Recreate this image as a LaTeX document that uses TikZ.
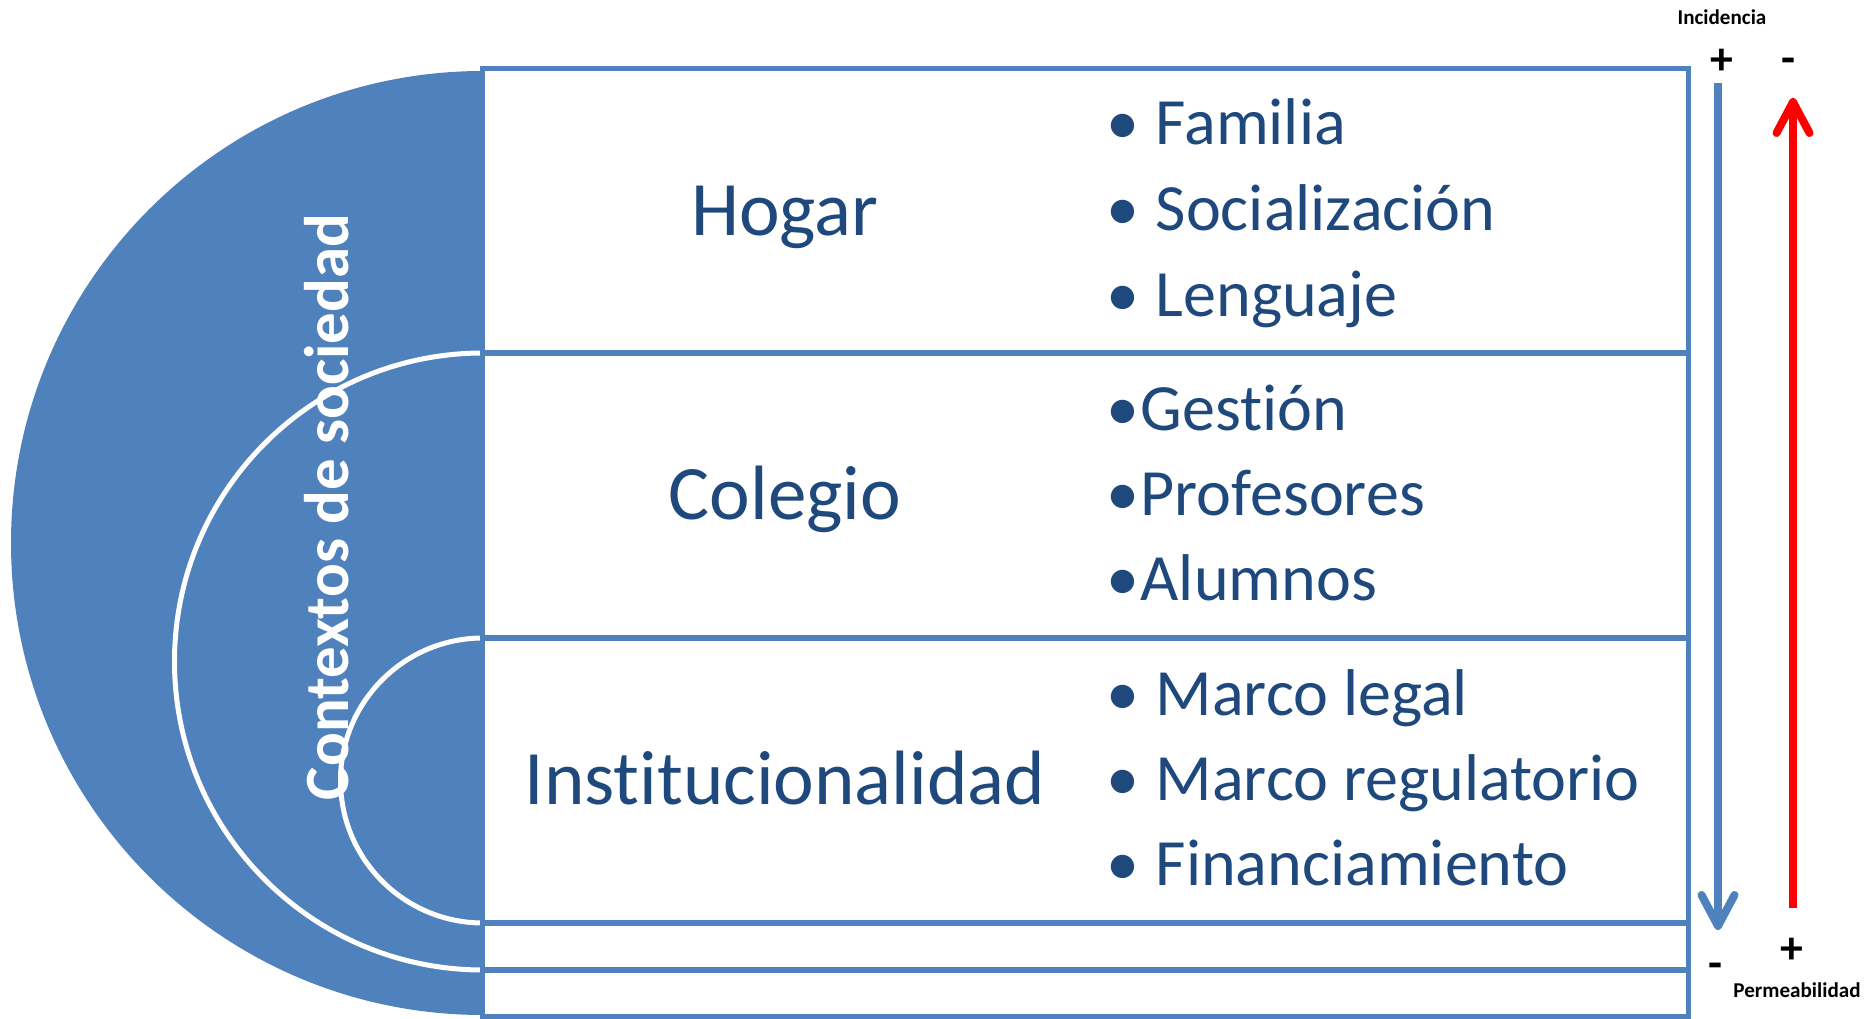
\documentclass[tikz,border=0pt]{standalone}
\usepackage{fontspec}
\setmainfont{Carlito}[Ligatures=NoCommon]
\usetikzlibrary{arrows.meta}
\definecolor{pblue}{HTML}{4F81BD}
\definecolor{tblue}{HTML}{1F497D}
\begin{document}
\begin{tikzpicture}[x=0.01cm,y=-0.01cm,
  box/.style={draw=pblue, line width=0.05cm, minimum width=12.05cm, inner sep=0pt, outer sep=0pt},
  lbl/.style={text=tblue, font=\fontsize{21.9}{26}\selectfont, anchor=base, inner sep=0pt},
  itm/.style={text=tblue, font=\fontsize{18.8}{22}\selectfont, anchor=base west, inner sep=0pt},
  bul/.style={text=tblue, font=\fontsize{18.8}{22}\selectfont, anchor=base, inner sep=0pt},
  ring/.style={draw=white, line width=0.05cm},
  small/.style={font=\bfseries\fontsize{6}{7}\selectfont, inner sep=0pt},
  sign/.style={font=\bfseries\fontsize{13}{15}\selectfont, inner sep=0pt},
  arr/.style={line width=0.08cm, -{Straight Barb[length=3.1mm, width=3.3mm, round]}}
]
\useasboundingbox (0,0) rectangle (1866,1019);
% semicircle and rings
\fill[pblue] (483,71) arc[start angle=270, end angle=90, radius=472] -- cycle;
\draw[ring] (483,353) arc[start angle=270, end angle=90, radius=308.5];
\draw[ring] (483,638) arc[start angle=270, end angle=90, radius=142.5];
% boxes
\node[box, minimum height=2.84cm] (hogar) at (1085.5,211) {};
\node[box, minimum height=2.85cm] (colegio) at (1085.5,495.5) {};
\node[box, minimum height=2.85cm] (inst) at (1085.5,780.5) {};
\node[box, minimum height=0.47cm] (r4) at (1085.5,946.5) {};
\node[box, minimum height=0.46cm] (r5) at (1085.5,993) {};
% vertical text
\node[rotate=90, anchor=base, text=white, font=\bfseries\fontsize{17.9}{22}\selectfont, inner sep=0pt] (ctx) at (348,507) {Contextos de sociedad};
% labels
\node[lbl] (lh) at (785,236) {Hogar};
\node[lbl] (lc) at (785,520) {Colegio};
\node[lbl] (li) at (785,805) {Institucionalidad};
% items
\node[bul] (b1) at (1123,145) {\textbullet};
\node[itm] (i1) at (1155,145) {Familia};
\node[bul] (b2) at (1123,231) {\textbullet};
\node[itm] (i2) at (1155,231) {Socialización};
\node[bul] (b3) at (1123,317) {\textbullet};
\node[itm] (i3) at (1155,317) {Lenguaje};
\node[bul] (b4) at (1123,431) {\textbullet};
\node[itm] (i4) at (1140,431) {Gestión};
\node[bul] (b5) at (1123,516) {\textbullet};
\node[itm] (i5) at (1140,516) {Profesores};
\node[bul] (b6) at (1123,601) {\textbullet};
\node[itm] (i6) at (1140,601) {Alumnos};
\node[bul] (b7) at (1123,716) {\textbullet};
\node[itm] (i7) at (1155,716) {Marco legal};
\node[bul] (b8) at (1123,801) {\textbullet};
\node[itm] (i8) at (1155,801) {Marco regulatorio};
\node[bul] (b9) at (1123,886) {\textbullet};
\node[itm] (i9) at (1155,886) {Financiamiento};
% arrows
\coordinate (bTop) at (1718,83);
\coordinate (bBot) at (1718,930);
\draw[arr, pblue] (bTop) -- (bBot);
\coordinate (rBot) at (1793,908);
\coordinate (rTop) at (1793,98);
\draw[arr, red] (rBot) -- (rTop);
% signs
\node[small] (inc) at (1722,17) {Incidencia};
\node[sign] (p1) at (1722,62) {+};
\node[sign] (m1) at (1788,66) {-};
\node[sign] (m2) at (1715,971) {-};
\node[sign] (p2) at (1792,951) {+};
\node[small] (perm) at (1797,990) {Permeabilidad};
\end{tikzpicture}
\end{document}
